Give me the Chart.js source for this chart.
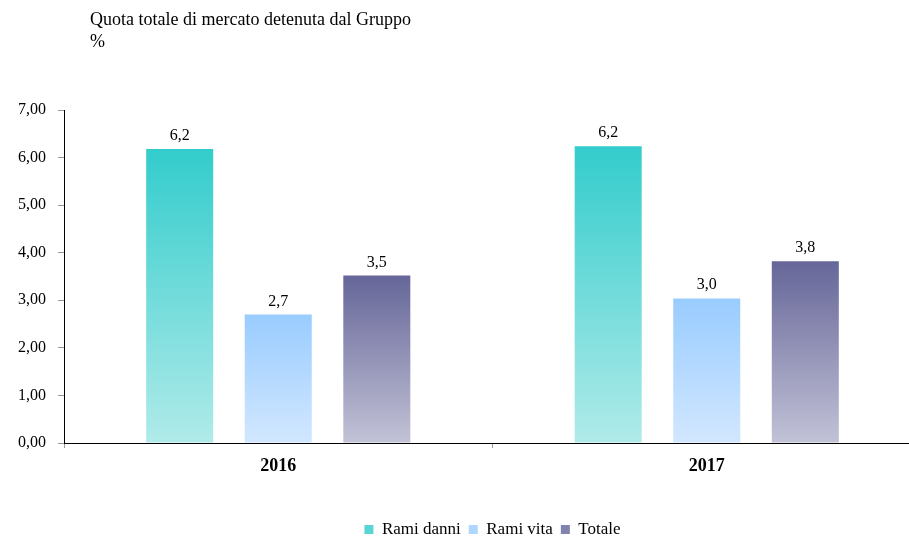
<!DOCTYPE html>
<html>
<head>
<meta charset="utf-8">
<script src="https://cdn.jsdelivr.net/npm/chart.js@4/dist/chart.umd.min.js"></script>
<style>
  html, body { margin: 0; padding: 0; background: #fff; overflow: hidden; }
  #wrap { position: absolute; left: 0; top: 0; width: 930px; height: 548px; }
  #title { position: absolute; left: 90px; top: 8px; font: 18px "Liberation Serif", serif; line-height: 22px; color: #000; }
</style>
</head>
<body>
<div id="wrap"><canvas id="quota" width="930" height="548"></canvas></div>
<div id="title">Quota totale di mercato detenuta dal Gruppo<br>%</div>
<script>
const anni = ['2016', '2017'];
const ramiDanni = [6.18, 6.24];
const ramiVita = [2.70, 3.04];
const totale = [3.52, 3.82];

// colori della legenda (tono medio del gradiente)
const legendColors = ['rgb(90,212,212)', 'rgb(175,214,255)', 'rgb(130,130,175)'];

function barGradient(topColor, bottomColor) {
  return function (ctx) {
    const chart = ctx.chart;
    if (!chart.chartArea || ctx.raw === undefined) return topColor;
    const y = chart.scales.y;
    const top = y.getPixelForValue(ctx.raw);
    const base = y.getPixelForValue(0);
    const g = chart.ctx.createLinearGradient(0, top, 0, base);
    g.addColorStop(0, topColor);
    g.addColorStop(1, bottomColor);
    return g;
  };
}

const valueLabels = {
  id: 'valueLabels',
  afterDatasetsDraw(chart) {
    const c = chart.ctx;
    c.save();
    c.font = '16px "Liberation Serif", serif';
    c.fillStyle = '#000';
    c.textAlign = 'center';
    c.textBaseline = 'alphabetic';
    chart.data.datasets.forEach((ds, i) => {
      chart.getDatasetMeta(i).data.forEach((bar, j) => {
        c.fillText(ds.data[j].toFixed(1).replace('.', ','), bar.x, bar.y - 9);
      });
    });
    c.restore();
  }
};

new Chart(document.getElementById('quota'), {
  type: 'bar',
  data: {
    labels: anni,
    datasets: [
      {
        label: 'Rami danni',
        data: ramiDanni,
        backgroundColor: barGradient('rgb(51,204,204)', 'rgb(176,235,233)')
      }, {
        label: 'Rami vita',
        data: ramiVita,
        backgroundColor: barGradient('rgb(153,204,255)', 'rgb(210,231,255)')
      }, {
        label: 'Totale',
        data: totale,
        backgroundColor: barGradient('rgb(102,102,153)', 'rgb(194,194,215)')
      }]
  },
  options: {
    responsive: false,
    animation: false,
    events: [],
    categoryPercentage: 0.69,
    barPercentage: 0.68,
    layout: {
      padding: { top: 110, right: 9, bottom: 0, left: 0 }
    },
    plugins: {
      tooltip: { enabled: false },
      legend: {
        position: 'bottom',
        fullSize: false,
        labels: {
          boxWidth: 9,
          boxHeight: 9,
          padding: 8,
          color: '#000',
          font: { family: '"Liberation Serif", serif', size: 17 },
          generateLabels(chart) {
            const items = Chart.defaults.plugins.legend.labels.generateLabels(chart);
            items.forEach((it, i) => { it.fillStyle = legendColors[i]; it.lineWidth = 0; });
            return items;
          }
        }
      }
    },
    scales: {
      x: {
        afterFit(scale) { scale.height = 70; },
        border: { color: '#000', width: 1 },
        grid: { drawOnChartArea: false, tickLength: 5, tickColor: '#999', offset: true },
        ticks: {
          color: '#000',
          padding: 8,
          font: { family: '"Liberation Serif", serif', size: 18, weight: 'bold' }
        }
      },
      y: {
        min: 0,
        max: 7,
        afterFit(scale) { scale.width = 64; },
        border: { color: '#000', width: 1 },
        grid: { drawOnChartArea: false, tickLength: 6, tickColor: '#999' },
        ticks: {
          stepSize: 1,
          color: '#000',
          padding: 12,
          font: { family: '"Liberation Serif", serif', size: 16 },
          callback: (v) => v.toFixed(2).replace('.', ',')
        }
      }
    }
  },
  plugins: [valueLabels]
});
</script>
</body>
</html>
